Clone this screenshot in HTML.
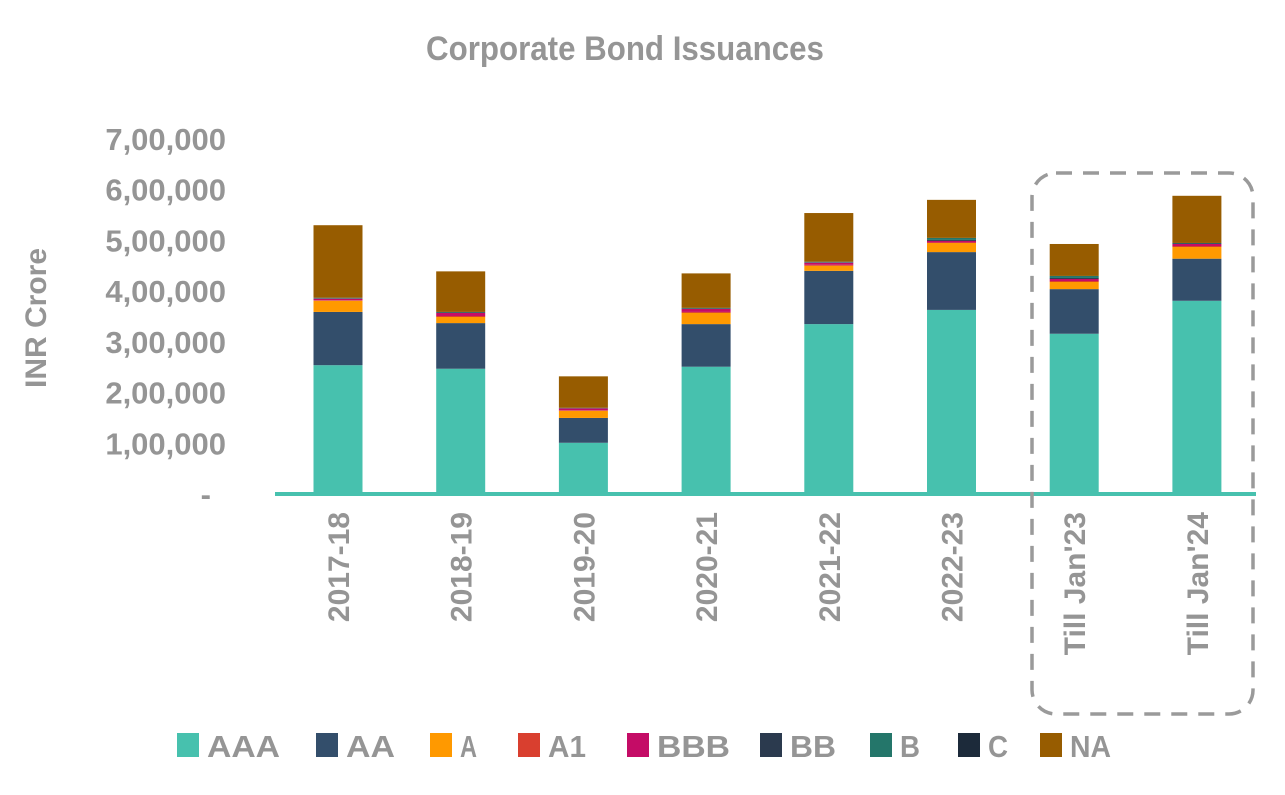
<!DOCTYPE html>
<html><head><meta charset="utf-8"><style>
body{margin:0;background:#fff;}
svg text{font-family:"Liberation Sans",sans-serif;font-weight:bold;fill:#959595;}
</style></head><body>
<svg width="1285" height="790">
<text x="625" y="60" text-anchor="middle" font-size="34" transform="translate(625,0) scale(0.92,1) translate(-625,0)">Corporate Bond Issuances</text>
<text transform="translate(46,318) rotate(-90)" text-anchor="middle" font-size="30">INR Crore</text>
<g id="yticks"></g>
<g id="bars"></g>
<line x1="275" y1="494" x2="1256" y2="494" stroke="#47c1ae" stroke-width="4"/>
<g id="xlabels"></g>
<rect x="1032" y="173" width="221" height="541" rx="24" ry="24" fill="none" stroke="#9a9a9a" stroke-width="3.5" stroke-dasharray="16,11"/>
<g id="legend"></g>
</svg>
<script>
const categories=["2017-18","2018-19","2019-20","2020-21","2021-22","2022-23","Till Jan'23","Till Jan'24"];
const seriesNames=["AAA","AA","A","A1","BBB","BB","B","C","NA"];
const seriesColors=["#47c1ae","#334e6b","#ff9900","#d93f2f","#c40c66","#2b3a4e","#24766a","#1c2a3a","#975c00"];
const AAA=[254000,247000,101000,251000,335000,363000,316000,381000];
const AA=[105000,90000,49000,84000,105000,114000,88000,83000];
const A=[22000,12000,14000,22000,10000,18000,14000,23000];
const A1=[1000,2000,1000,2000,2000,1000,2000,2000];
const BBB=[3000,6000,4000,6000,4000,3000,4000,4000];
const BB=[1000,1000,0,1000,1000,2000,2000,1000];
const B=[1000,1000,1000,1000,1000,4000,4000,1000];
const C=[0,0,0,0,0,0,0,0];
const NA=[143000,80000,62000,68000,96000,75000,63000,93000];
const yTicks=[0,100000,200000,300000,400000,500000,600000,700000];
const yTickLabels=["-","1,00,000","2,00,000","3,00,000","4,00,000","5,00,000","6,00,000","7,00,000"];
const series=[AAA,AA,A,A1,BBB,BB,B,C,NA];
const NS="http://www.w3.org/2000/svg";
const y0=494,pxPer=355/700000;
function yScale(v){return y0-v*pxPer;}
function xScale(i){return 338+i*122.7;}
const bw=49;
const yt=document.getElementById('yticks');
yTicks.forEach((t,i)=>{const e=document.createElementNS(NS,'text');


e.setAttribute('x',i==0?211:226);e.setAttribute('y',yScale(t)+11);e.setAttribute('text-anchor','end');e.setAttribute('font-size','31');e.textContent=yTickLabels[i];yt.appendChild(e);});
const bg=document.getElementById('bars');
categories.forEach((c,i)=>{let acc=0;series.forEach((s,k)=>{const v=s[i];if(!v){return;}const r=document.createElementNS(NS,'rect');


r.setAttribute('x',xScale(i)-bw/2);r.setAttribute('y',yScale(acc+v));r.setAttribute('width',bw);r.setAttribute('height',v*pxPer);r.setAttribute('fill',seriesColors[k]);bg.appendChild(r);acc+=v;});});
const xl=document.getElementById('xlabels');
categories.forEach((c,i)=>{const e=document.createElementNS(NS,'text');


e.setAttribute('transform','translate('+(xScale(i)+11)+',512) rotate(-90)');e.setAttribute('text-anchor','end');e.setAttribute('font-size','30');e.textContent=c;xl.appendChild(e);});
const lg=document.getElementById('legend');
const lx=[177,316,430,518,627,760,870,958,1040];
seriesNames.forEach((n,k)=>{const g=document.createElementNS(NS,'g');


const r=document.createElementNS(NS,'rect');r.setAttribute('x',lx[k]);r.setAttribute('y',733);r.setAttribute('width',22);r.setAttribute('height',24);r.setAttribute('fill',seriesColors[k]);g.appendChild(r);
const t=document.createElementNS(NS,'text');t.setAttribute('x',lx[k]+30);t.setAttribute('y',757);t.setAttribute('font-size','31');t.setAttribute('textLength',[73,49,17,38,73,46,20,20,41][k]);t.setAttribute('lengthAdjust','spacingAndGlyphs');t.textContent=n;g.appendChild(t);lg.appendChild(g);});
</script>
</body></html>
